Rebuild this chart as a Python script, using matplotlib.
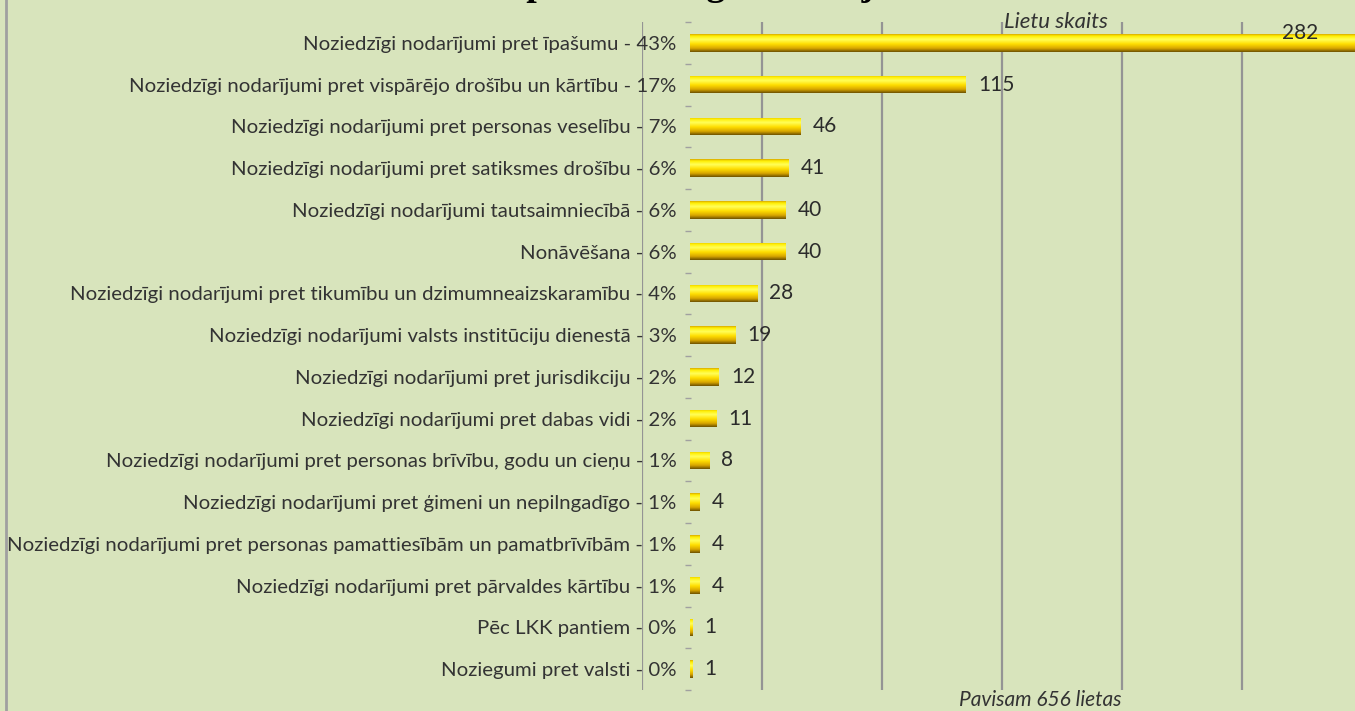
import numpy as np
import matplotlib
matplotlib.use("Agg")
import matplotlib.pyplot as plt
from matplotlib.lines import Line2D
from matplotlib import transforms

# Data (top to bottom)
categories = [
    "Noziedzīgi nodarījumi pret īpašumu",
    "Noziedzīgi nodarījumi pret vispārējo drošību un kārtību",
    "Noziedzīgi nodarījumi pret personas veselību",
    "Noziedzīgi nodarījumi pret satiksmes drošību",
    "Noziedzīgi nodarījumi tautsaimniecībā",
    "Nonāvēšana",
    "Noziedzīgi nodarījumi pret tikumību un dzimumneaizskaramību",
    "Noziedzīgi nodarījumi valsts institūciju dienestā",
    "Noziedzīgi nodarījumi pret jurisdikciju",
    "Noziedzīgi nodarījumi pret dabas vidi",
    "Noziedzīgi nodarījumi pret personas brīvību, godu un cieņu",
    "Noziedzīgi nodarījumi pret ģimeni un nepilngadīgo",
    "Noziedzīgi nodarījumi pret personas pamattiesībām un pamatbrīvībām",
    "Noziedzīgi nodarījumi pret pārvaldes kārtību",
    "Pēc LKK pantiem",
    "Noziegumi pret valsti",
]
counts = [282, 115, 46, 41, 40, 40, 28, 19, 12, 11, 8, 4, 4, 4, 1, 1]
percents = ["43%", "17%", "7%", "6%", "6%", "6%", "4%", "3%", "2%", "2%",
            "1%", "1%", "1%", "1%", "0%", "0%"]
total_label = "Pavisam 656 lietas"
axis_title = "Lietu skaits"
chart_title = "Krimināllietas pa noziedzīgu nodarījumu veidiem"

bg = "#d8e4bc"
W, H = 1355, 711

fig = plt.figure(figsize=(W / 100, H / 100), dpi=100, facecolor=bg)
ax = fig.add_axes([642 / W, 21 / H, 713 / W, 668 / H], facecolor=bg)

y = np.arange(len(categories))
bars = ax.barh(y, counts, height=0.42, color="none", edgecolor="none", zorder=3)

# cylinder-like yellow gradient, top to bottom
stops = [0.0, 0.1, 0.3, 0.55, 0.8, 1.0]
cols = np.array([[217, 170, 0], [255, 238, 0], [255, 255, 90],
                 [255, 222, 0], [215, 165, 0], [110, 82, 0]]) / 255
t = np.linspace(0, 1, 64)
grad = np.stack([np.interp(t, stops, cols[:, k]) for k in range(3)], axis=1)
grad = grad[:, None, :]

for b in bars:
    x0, y0 = b.get_x(), b.get_y()
    im = ax.imshow(grad, extent=(x0, x0 + b.get_width(), y0 + b.get_height(), y0),
                   origin="upper", aspect="auto", interpolation="bilinear", zorder=3)
    im.set_clip_path(b)

xmin, xmax = -20, -20 + 713 / 2.4
ax.set_xlim(xmin, xmax)
ax.set_ylim(len(categories) - 0.5, -0.5)

# value labels
for i, v in enumerate(counts):
    if v > xmax:
        ax.text(xmax - 23, i - 0.24, str(v), ha="center", va="center",
                fontsize=15, color="#2b2b2b", family="Lato", zorder=4)
    else:
        ax.text(v + 5, i, str(v), ha="left", va="center",
                fontsize=15, color="#2b2b2b", family="Lato", zorder=4)

# gridlines every 50
ax.set_xticks(np.arange(-20, xmax, 50))
ax.grid(axis="x", color="#949494", lw=1.6, zorder=1)
ax.tick_params(axis="x", length=0, labelbottom=False)
for s in ax.spines.values():
    s.set_visible(False)

ax.set_yticks(y)
ax.set_yticklabels([f"{c} - {p}" for c, p in zip(categories, percents)],
                   fontsize=14.7, color="#333333", family="Lato")
ax.tick_params(axis="y", length=0, pad=-25)

# small dashes between categories
bounds = np.arange(len(categories) + 1) - 0.5
ax.plot(np.full(len(bounds), -1.0), bounds, ls="none", marker="_", ms=5,
        mew=1, color="#a0a0a0", clip_on=False, zorder=2)

trans = transforms.blended_transform_factory(ax.transData, ax.transAxes)
ax.text(131, 1.0, axis_title, transform=trans, ha="left", va="center",
        fontsize=16, style="italic", color="#333333", family="Lato")

fig.text(1040 / W, 1 - 700 / H, total_label, ha="center", va="center",
         fontsize=15, style="italic", color="#333333", family="Lato")

# title is cut off at the top edge in the source, only descenders show
fig.text(286 / W, 1 + 5 / H, chart_title, ha="left", va="baseline",
         fontsize=27, weight="bold", family="Liberation Serif", color="black")

fig.add_artist(Line2D([6 / W, 6 / W], [0, 1], color="#a0a0a0", lw=2,
                      transform=fig.transFigure))

fig.savefig("out.png", dpi=100, facecolor=bg)
